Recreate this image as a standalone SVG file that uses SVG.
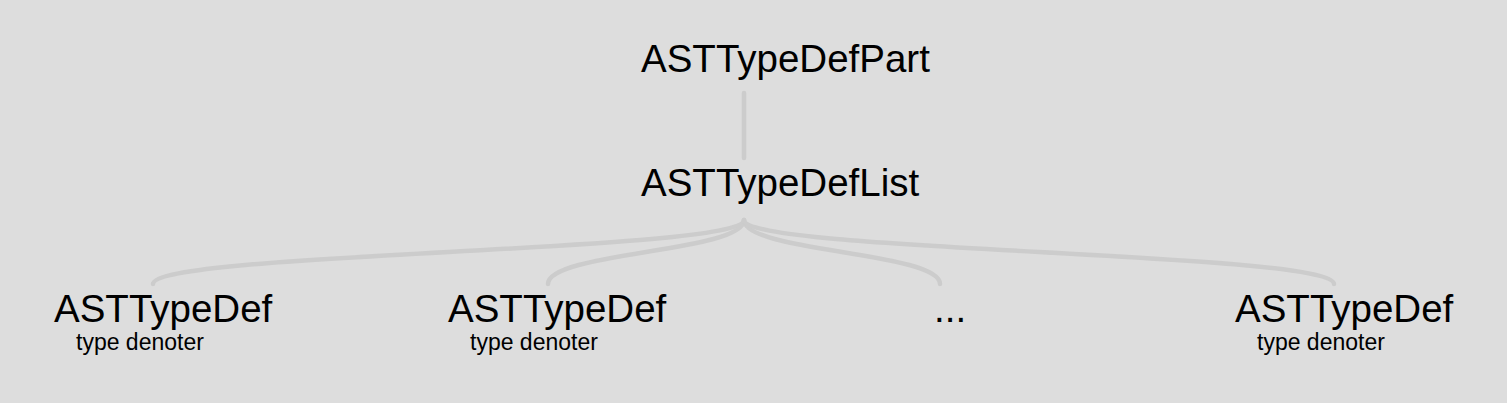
<svg xmlns="http://www.w3.org/2000/svg" width="1507" height="403" viewBox="0 0 1507 403">
<style>
.bg{fill:#dddddd}
.link{fill:none;stroke:#cccccc;stroke-width:4.5;stroke-linecap:round}
.name{font-family:"Liberation Sans",Arial,sans-serif;font-size:38.5px;fill:#000}
.sub{font-family:"Liberation Sans",Arial,sans-serif;font-size:23px;fill:#000}
</style>
<rect class="bg" x="0" y="0" width="1507" height="403"/>
<g id="connectors">
<path class="link" d="M744,93 L744,158"/>
<path class="link" d="M744,220 C744,252 153,252 153,284"/>
<path class="link" d="M744,220 C744,252 548,252 548,284"/>
<path class="link" d="M744,220 C744,252 940,252 940,284"/>
<path class="link" d="M744,220 C744,252 1334,252 1334,284"/>
</g>
<g id="node-part"><text class="name" x="641" y="72">ASTTypeDefPart</text></g>
<g id="node-list"><text class="name" x="641" y="196">ASTTypeDefList</text></g>
<g id="node-def1"><text class="name" x="54" y="322">ASTTypeDef</text><text class="sub" x="76" y="350">type denoter</text></g>
<g id="node-def2"><text class="name" x="448" y="322">ASTTypeDef</text><text class="sub" x="470" y="350">type denoter</text></g>
<g id="node-ellipsis"><text class="name" x="934" y="322">...</text></g>
<g id="node-def3"><text class="name" x="1235" y="322">ASTTypeDef</text><text class="sub" x="1257" y="350">type denoter</text></g>
</svg>
